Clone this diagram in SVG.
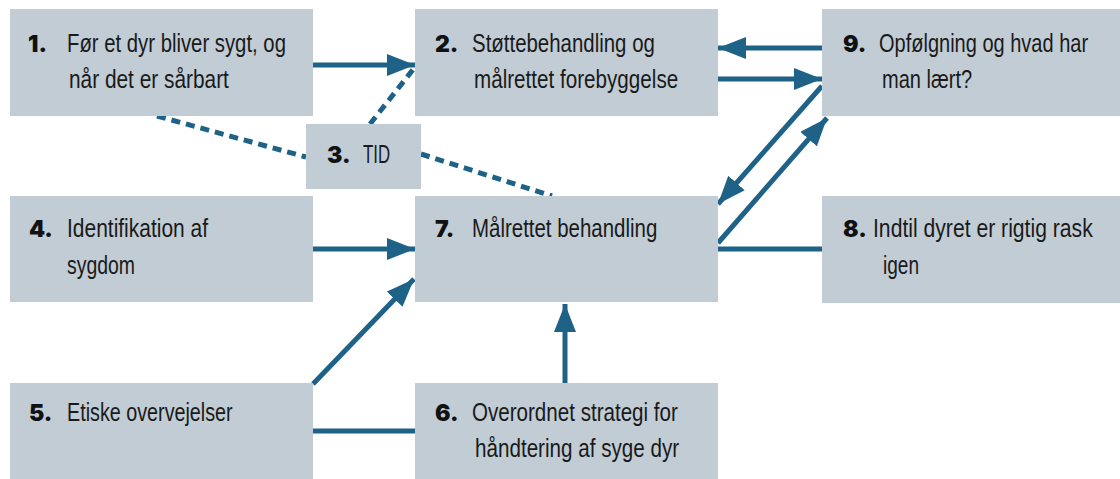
<svg xmlns="http://www.w3.org/2000/svg" width="1120" height="479" viewBox="0 0 1120 479">
<defs>
<style>
.box{fill:#c1ccd5}
.t{font-family:"Liberation Sans",Arial,sans-serif;font-size:25px;fill:#1a1a1a}
.n{font-family:Inter,"Liberation Sans",sans-serif;font-weight:900;font-size:23px;fill:#111}
.c{stroke:#1f6287;stroke-width:5;fill:none}
.d{stroke:#1f6287;stroke-width:5;fill:none;stroke-dasharray:9 6}
.h{fill:#1f6287}
</style>
<marker id="ah" markerUnits="userSpaceOnUse" markerWidth="28" markerHeight="22" viewBox="0 0 28 22" refX="28" refY="11" orient="auto">
<path class="h" d="M0,0 L28,11 L0,22 Z"/>
</marker>
</defs>
<rect width="1120" height="479" fill="#fff"/>
<g id="connectors">
<line class="d" x1="157" y1="116" x2="306" y2="157"/>
<line class="d" x1="370" y1="124" x2="415" y2="67"/>
<line class="d" x1="421" y1="154" x2="552" y2="196"/>
<line class="c" x1="313" y1="65" x2="415" y2="65" marker-end="url(#ah)"/>
<line class="c" x1="822" y1="48" x2="718" y2="48" marker-end="url(#ah)"/>
<line class="c" x1="718" y1="79" x2="822" y2="79" marker-end="url(#ah)"/>
<line class="c" x1="822" y1="86" x2="718" y2="204" marker-end="url(#ah)"/>
<line class="c" x1="718" y1="243" x2="827" y2="118" marker-end="url(#ah)"/>
<line class="c" x1="718" y1="249" x2="822" y2="249"/>
<line class="c" x1="313" y1="249" x2="415" y2="249" marker-end="url(#ah)"/>
<line class="c" x1="313" y1="384" x2="414" y2="279" marker-end="url(#ah)"/>
<line class="c" x1="313" y1="431" x2="415" y2="431"/>
<line class="c" x1="565" y1="383" x2="565" y2="304" marker-end="url(#ah)"/>
</g>
<g id="node1"><rect class="box" x="10" y="9" width="303" height="107"/><text class="n" x="28" y="52">1.</text><text class="t" transform="translate(67,52) scale(0.82,1)" textLength="267" lengthAdjust="spacingAndGlyphs">Før et dyr bliver sygt, og</text><text class="t" transform="translate(69,88) scale(0.82,1)" textLength="195" lengthAdjust="spacingAndGlyphs">når det er sårbart</text></g>
<g id="node2"><rect class="box" x="415" y="9" width="303" height="107"/><text class="n" x="435" y="52">2.</text><text class="t" transform="translate(472,52) scale(0.82,1)" textLength="223" lengthAdjust="spacingAndGlyphs">Støttebehandling og</text><text class="t" transform="translate(474,88) scale(0.82,1)" textLength="249" lengthAdjust="spacingAndGlyphs">målrettet forebyggelse</text></g>
<g id="node9"><rect class="box" x="822" y="9" width="298" height="107"/><text class="n" x="843" y="52">9.</text><text class="t" transform="translate(879,52) scale(0.82,1)" textLength="255" lengthAdjust="spacingAndGlyphs">Opfølgning og hvad har</text><text class="t" transform="translate(882,88) scale(0.82,1)" textLength="110" lengthAdjust="spacingAndGlyphs">man lært?</text></g>
<g id="node3"><rect class="box" x="306" y="124" width="115" height="65"/><text class="n" x="327" y="163">3.</text><text class="t" transform="translate(363,163) scale(0.82,1)" textLength="33" lengthAdjust="spacingAndGlyphs">TID</text></g>
<g id="node4"><rect class="box" x="10" y="196" width="303" height="106"/><text class="n" x="29" y="237">4.</text><text class="t" transform="translate(67,237) scale(0.82,1)" textLength="172" lengthAdjust="spacingAndGlyphs">Identifikation af</text><text class="t" transform="translate(67,274) scale(0.82,1)" textLength="83" lengthAdjust="spacingAndGlyphs">sygdom</text></g>
<g id="node7"><rect class="box" x="415" y="196" width="303" height="106"/><text class="n" x="435" y="237">7.</text><text class="t" transform="translate(472,237) scale(0.82,1)" textLength="226" lengthAdjust="spacingAndGlyphs">Målrettet behandling</text></g>
<g id="node8"><rect class="box" x="822" y="196" width="298" height="107"/><text class="n" x="843" y="237">8.</text><text class="t" transform="translate(873,237) scale(0.82,1)" textLength="268" lengthAdjust="spacingAndGlyphs">Indtil dyret er rigtig rask</text><text class="t" transform="translate(883,274) scale(0.82,1)" textLength="44" lengthAdjust="spacingAndGlyphs">igen</text></g>
<g id="node5"><rect class="box" x="10" y="383" width="303" height="96"/><text class="n" x="29" y="421">5.</text><text class="t" transform="translate(67,421) scale(0.82,1)" textLength="202" lengthAdjust="spacingAndGlyphs">Etiske overvejelser</text></g>
<g id="node6"><rect class="box" x="415" y="383" width="303" height="96"/><text class="n" x="435" y="421">6.</text><text class="t" transform="translate(472,421) scale(0.82,1)" textLength="251" lengthAdjust="spacingAndGlyphs">Overordnet strategi for</text><text class="t" transform="translate(475,457) scale(0.82,1)" textLength="249" lengthAdjust="spacingAndGlyphs">håndtering af syge dyr</text></g>
</svg>
